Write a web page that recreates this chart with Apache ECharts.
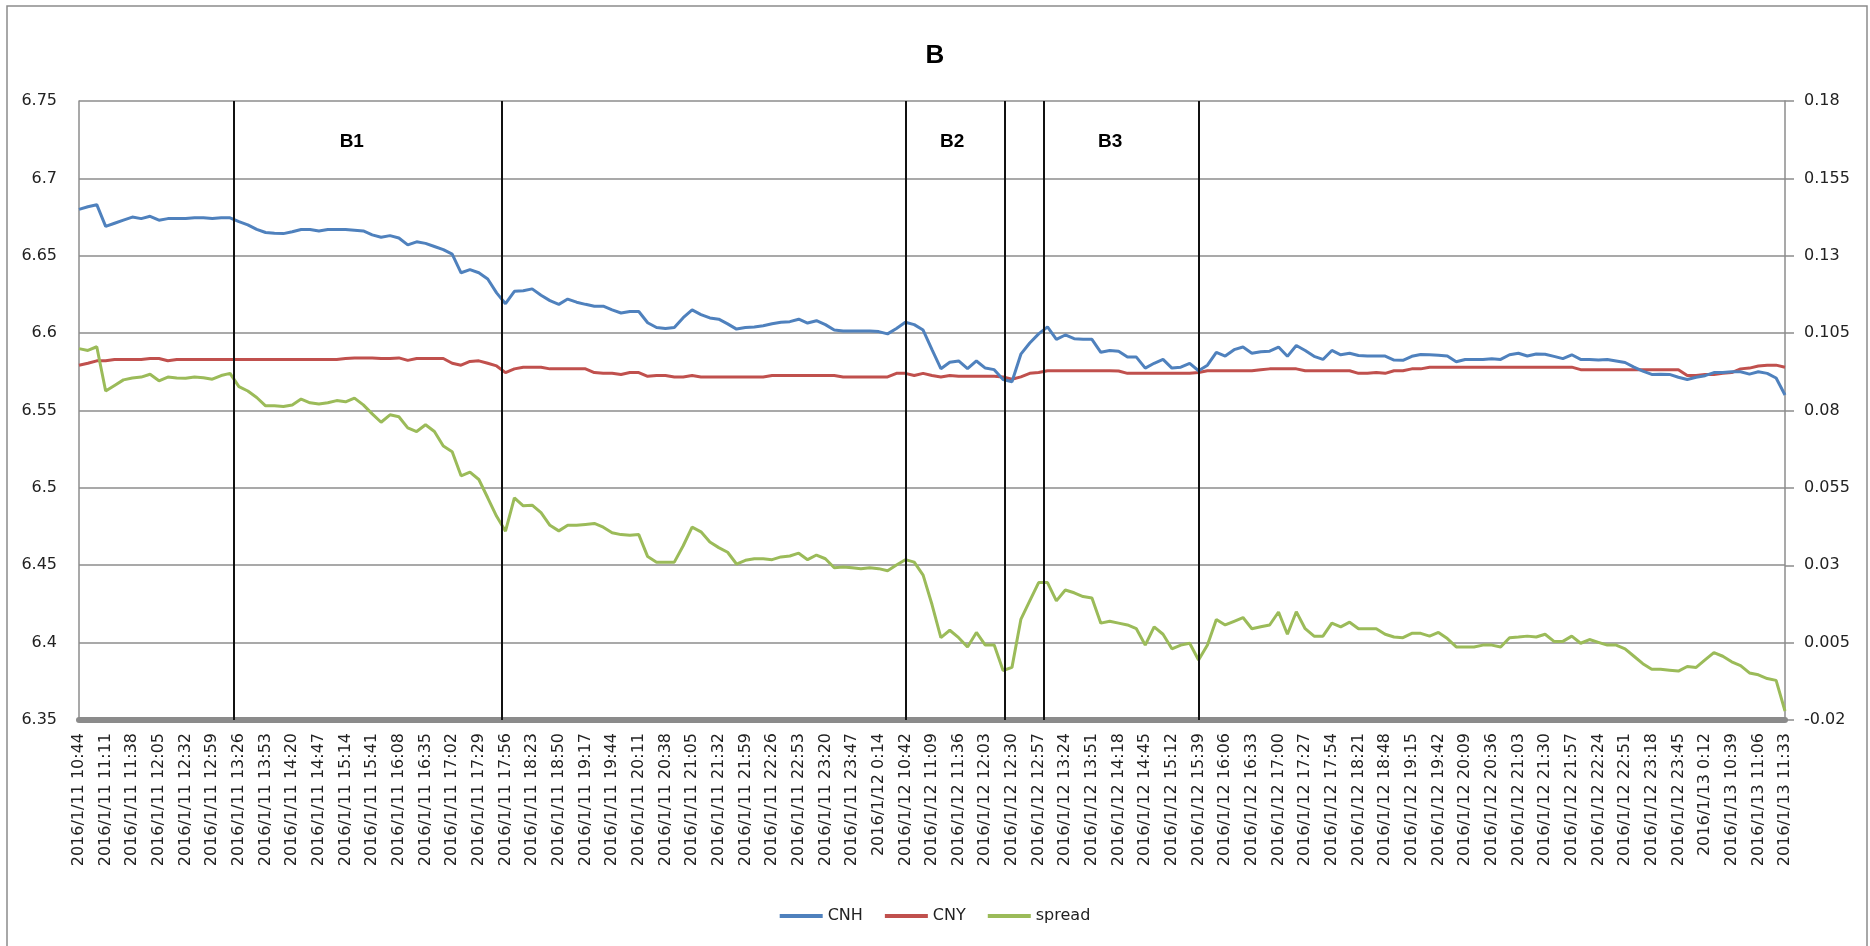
<!DOCTYPE html>
<html>
<head>
<meta charset="utf-8">
<script src="https://cdn.jsdelivr.net/npm/echarts@6/dist/echarts.min.js"></script>
<style>html,body{margin:0;padding:0;background:#fff;}#chart{width:1870px;height:946px;}</style>
</head>
<body>
<div id="chart"></div>
<script>
// x positions are minute-sample indices (one sample every 9 minutes, 27 minutes between tick labels)
const SAMPLE_STEP = 9;
const TICK_STEP = 27;

const tickLabels = [
  '2016/1/11 10:44','2016/1/11 11:11','2016/1/11 11:38','2016/1/11 12:05','2016/1/11 12:32','2016/1/11 12:59',
  '2016/1/11 13:26','2016/1/11 13:53','2016/1/11 14:20','2016/1/11 14:47','2016/1/11 15:14','2016/1/11 15:41',
  '2016/1/11 16:08','2016/1/11 16:35','2016/1/11 17:02','2016/1/11 17:29','2016/1/11 17:56','2016/1/11 18:23',
  '2016/1/11 18:50','2016/1/11 19:17','2016/1/11 19:44','2016/1/11 20:11','2016/1/11 20:38','2016/1/11 21:05',
  '2016/1/11 21:32','2016/1/11 21:59','2016/1/11 22:26','2016/1/11 22:53','2016/1/11 23:20','2016/1/11 23:47',
  '2016/1/12 0:14',
  '2016/1/12 10:42','2016/1/12 11:09','2016/1/12 11:36','2016/1/12 12:03','2016/1/12 12:30','2016/1/12 12:57',
  '2016/1/12 13:24','2016/1/12 13:51','2016/1/12 14:18','2016/1/12 14:45','2016/1/12 15:12','2016/1/12 15:39',
  '2016/1/12 16:06','2016/1/12 16:33','2016/1/12 17:00','2016/1/12 17:27','2016/1/12 17:54','2016/1/12 18:21',
  '2016/1/12 18:48','2016/1/12 19:15','2016/1/12 19:42','2016/1/12 20:09','2016/1/12 20:36','2016/1/12 21:03',
  '2016/1/12 21:30','2016/1/12 21:57','2016/1/12 22:24','2016/1/12 22:51','2016/1/12 23:18','2016/1/12 23:45',
  '2016/1/13 0:12',
  '2016/1/13 10:39','2016/1/13 11:06','2016/1/13 11:33'
];

const cnh = [
  6.680,6.6817,6.683,6.669,6.671,6.673,6.675,6.674,6.6755,6.673,6.674,6.674,
  6.674,6.6745,6.6745,6.674,6.6745,6.6745,6.672,6.670,6.667,6.665,6.6645,6.6643,
  6.6655,6.667,6.667,6.666,6.667,6.667,6.667,6.6665,6.666,6.6635,6.662,6.663,
  6.6615,6.657,6.659,6.658,6.656,6.654,6.651,6.639,6.641,6.639,6.635,6.626,
  6.619,6.627,6.6274,6.6286,6.6245,6.621,6.6186,6.622,6.620,6.6186,6.6174,6.6174,
  6.615,6.613,6.614,6.614,6.6067,6.6036,6.603,6.6036,6.610,6.615,6.612,6.6098,
  6.609,6.606,6.6026,6.6036,6.604,6.6048,6.606,6.607,6.6074,6.609,6.6065,6.608,
  6.6055,6.602,6.6014,6.6014,6.6014,6.6014,6.601,6.5995,6.603,6.607,6.6055,6.602,
  6.5893,6.577,6.5812,6.582,6.577,6.582,6.5774,6.5764,6.570,6.5686,6.5864,6.5936,
  6.5995,6.604,6.596,6.5988,6.5964,6.596,6.596,6.5876,6.5888,6.5883,6.5845,6.5845,
  6.5774,6.5805,6.583,6.5774,6.578,6.5805,6.5757,6.5793,6.5876,6.5852,6.5893,6.591,
  6.587,6.588,6.5883,6.591,6.585,6.592,6.5888,6.585,6.583,6.5888,6.586,6.587,
  6.5855,6.5852,6.5852,6.5852,6.5826,6.5824,6.585,6.5862,6.586,6.5857,6.5852,6.5815,
  6.583,6.583,6.583,6.5835,6.583,6.586,6.587,6.5852,6.5865,6.5864,6.585,6.5835,
  6.586,6.583,6.583,6.5826,6.583,6.582,6.581,6.578,6.5755,6.5733,6.5735,6.5733,
  6.5715,6.570,6.5715,6.5725,6.5745,6.5745,6.575,6.575,6.5735,6.575,6.574,6.571,
  6.560
];

const cny = [
  6.5793,6.5805,6.5821,6.5821,6.5829,6.5829,6.5829,6.5829,6.5836,6.5836,6.5821,6.5829,
  6.5829,6.5829,6.5829,6.5829,6.5829,6.5829,6.5829,6.5829,6.5829,6.5829,6.5829,6.5829,
  6.5829,6.5829,6.5829,6.5829,6.5829,6.5829,6.5836,6.584,6.584,6.584,6.5836,6.5836,
  6.584,6.5824,6.5836,6.5836,6.5836,6.5836,6.5805,6.5793,6.5817,6.5821,6.5805,6.5788,
  6.5745,6.5769,6.578,6.578,6.578,6.5769,6.5769,6.5769,6.5769,6.5769,6.5745,6.574,
  6.574,6.5733,6.5745,6.5745,6.5721,6.5726,6.5726,6.5717,6.5717,6.5726,6.5717,6.5717,
  6.5717,6.5717,6.5717,6.5717,6.5717,6.5717,6.5726,6.5726,6.5726,6.5726,6.5726,6.5726,
  6.5726,6.5726,6.5717,6.5717,6.5717,6.5717,6.5717,6.5717,6.574,6.574,6.5726,6.574,
  6.5726,6.5717,6.5726,6.5721,6.5721,6.5721,6.5721,6.5721,6.5717,6.5702,6.5717,6.574,
  6.5745,6.5757,6.5757,6.5757,6.5757,6.5757,6.5757,6.5757,6.5757,6.5755,6.574,6.574,
  6.574,6.574,6.574,6.574,6.574,6.574,6.5745,6.5757,6.5757,6.5757,6.5757,6.5757,
  6.5757,6.5764,6.5769,6.5769,6.5769,6.5769,6.5757,6.5757,6.5757,6.5757,6.5757,6.5757,
  6.574,6.574,6.5745,6.574,6.5757,6.5757,6.5769,6.5769,6.578,6.578,6.578,6.578,
  6.578,6.578,6.578,6.578,6.578,6.578,6.578,6.578,6.578,6.578,6.578,6.578,
  6.578,6.5764,6.5764,6.5764,6.5764,6.5764,6.5764,6.5764,6.5764,6.5764,6.5764,6.5764,
  6.5764,6.5726,6.5726,6.5733,6.5733,6.574,6.5745,6.5769,6.5774,6.5788,6.5793,6.5793,
  6.578
];

const spread = [
  0.1000,0.0994,0.1006,0.0863,0.0881,0.0899,0.0905,0.0908,0.0917,0.0896,0.0908,0.0905,
  0.0904,0.0908,0.0906,0.0901,0.0913,0.0920,0.0877,0.0863,0.0842,0.0815,0.0815,0.0813,
  0.0818,0.0837,0.0825,0.0821,0.0825,0.0832,0.0828,0.0840,0.0818,0.0789,0.0762,0.0786,
  0.0780,0.0744,0.0732,0.0754,0.0732,0.0685,0.0667,0.0589,0.0601,0.0577,0.0518,0.0458,
  0.0410,0.0518,0.0492,0.0494,0.0470,0.0429,0.0411,0.0429,0.0429,0.0432,0.0435,0.0423,
  0.0405,0.0399,0.0397,0.0399,0.0328,0.0310,0.0310,0.0310,0.0363,0.0423,0.0408,0.0375,
  0.0357,0.0342,0.0304,0.0316,0.0321,0.0321,0.0318,0.0327,0.0330,0.0339,0.0318,0.0333,
  0.0321,0.0292,0.0294,0.0292,0.0289,0.0292,0.0289,0.0282,0.0301,0.0318,0.0310,0.0268,
  0.0173,0.0066,0.0090,0.0066,0.0036,0.0083,0.0042,0.0042,-0.0040,-0.0030,0.0125,0.0185,
  0.0244,0.0244,0.0185,0.0220,0.0211,0.0199,0.0194,0.0113,0.0119,0.0113,0.0107,0.0095,
  0.0042,0.0101,0.0077,0.0030,0.0042,0.0048,-0.0006,0.0042,0.0125,0.0107,0.0119,0.0131,
  0.0095,0.0101,0.0107,0.0149,0.0077,0.0150,0.0095,0.0071,0.0071,0.0113,0.0101,0.0116,
  0.0095,0.0095,0.0095,0.0077,0.0068,0.0066,0.0080,0.0080,0.0071,0.0083,0.0063,0.0036,
  0.0036,0.0036,0.0042,0.0042,0.0036,0.0066,0.0068,0.0071,0.0068,0.0077,0.0054,0.0054,
  0.0071,0.0048,0.0060,0.0051,0.0042,0.0042,0.0030,0.0006,-0.0018,-0.0036,-0.0036,-0.0039,
  -0.0042,-0.0027,-0.0030,-0.0006,0.0018,0.0006,-0.0012,-0.0024,-0.0048,-0.0054,-0.0066,-0.0072,
  -0.0171
];

// vertical divider positions (sample index) and the labelled phases
const dividers = [157, 428, 837, 938, 977, 1134];
const phases = [
  { name: 'B1', from: 157, to: 428 },
  { name: 'B2', from: 837, to: 938 },
  { name: 'B3', from: 977, to: 1134 }
];
const phaseLabelShift = { B1: -16, B2: -3, B3: -11 };

const toPairs = arr => arr.map((v, i) => [i * SAMPLE_STEP, v]);
const maxIdx = (tickLabels.length - 1) * TICK_STEP;

const FONT = 'DejaVu Sans';
const chart = echarts.init(document.getElementById('chart'), null, { renderer: 'canvas' });

chart.setOption({
  animation: false,
  backgroundColor: '#ffffff',
  title: {
    text: 'B', left: 'center', top: 38,
    textStyle: { fontFamily: 'Liberation Sans', fontWeight: 'bold', fontSize: 26, color: '#000' }
  },
  graphic: [{
    type: 'rect', silent: true,
    shape: { x: 7, y: 6, width: 1860, height: 980 },
    style: { fill: 'none', stroke: '#8c8c8c', lineWidth: 1.5 }
  }],
  legend: {
    data: ['CNH', 'CNY', 'spread'],
    left: 'center', top: 903,
    icon: 'rect', itemWidth: 43, itemHeight: 4, itemGap: 22,
    textStyle: { fontFamily: FONT, fontSize: 16, color: '#222' }
  },
  grid: { left: 79, right: 85, top: 101, bottom: 226, containLabel: false },
  xAxis: {
    type: 'value', min: 0, max: maxIdx, interval: TICK_STEP,
    axisLine: { onZero: false, lineStyle: { color: '#8b8b8b', width: 6 } },
    axisTick: { show: false },
    splitLine: { show: false },
    axisLabel: {
      rotate: 90, margin: 13, showMinLabel: true, showMaxLabel: true,
      fontFamily: FONT, fontSize: 16, color: '#222',
      formatter: v => tickLabels[Math.round(v / TICK_STEP)] || ''
    }
  },
  yAxis: [{
    type: 'value', min: 6.35, max: 6.75, interval: 0.05,
    axisLine: { show: true, lineStyle: { color: '#8c8c8c', width: 1.5 } },
    axisTick: { show: false },
    splitLine: { show: true, lineStyle: { color: '#8c8c8c', width: 1.5 } },
    axisLabel: {
      margin: 22, fontFamily: FONT, fontSize: 16, color: '#222',
      formatter: v => String(parseFloat(v.toFixed(2)))
    }
  }, {
    type: 'value', min: -0.02, max: 0.18, interval: 0.025, position: 'right',
    axisLine: { show: true, lineStyle: { color: '#8c8c8c', width: 1.5 } },
    axisTick: { show: true, length: 9, lineStyle: { color: '#8c8c8c', width: 1.5 } },
    splitLine: { show: false },
    axisLabel: {
      margin: 19, fontFamily: FONT, fontSize: 16, color: '#222',
      formatter: v => String(parseFloat(v.toFixed(3)))
    }
  }],
  series: [{
    name: 'CNH', type: 'line', yAxisIndex: 0, data: toPairs(cnh),
    showSymbol: false, color: '#4F81BD', lineStyle: { width: 3, color: '#4F81BD' },
    markLine: {
      silent: true, symbol: 'none', label: { show: false },
      lineStyle: { color: '#111', width: 2, type: 'solid' },
      data: dividers.map(d => ({ xAxis: d }))
    },
    markArea: {
      silent: true,
      itemStyle: { color: 'rgba(0,0,0,0)' },
      label: {
        show: true, position: 'insideTop', distance: 31,
        fontFamily: 'Liberation Sans', fontWeight: 'bold', fontSize: 19, color: '#000'
      },
      data: phases.map(p => [
        { name: p.name, xAxis: p.from, label: { offset: [phaseLabelShift[p.name], 0] } },
        { xAxis: p.to }
      ])
    },
    z: 3
  }, {
    name: 'CNY', type: 'line', yAxisIndex: 0, data: toPairs(cny),
    showSymbol: false, color: '#C0504D', lineStyle: { width: 3, color: '#C0504D' }, z: 2
  }, {
    name: 'spread', type: 'line', yAxisIndex: 1, data: toPairs(spread),
    showSymbol: false, color: '#9BBB59', lineStyle: { width: 3, color: '#9BBB59' }, z: 4
  }]
});
</script>
</body>
</html>
